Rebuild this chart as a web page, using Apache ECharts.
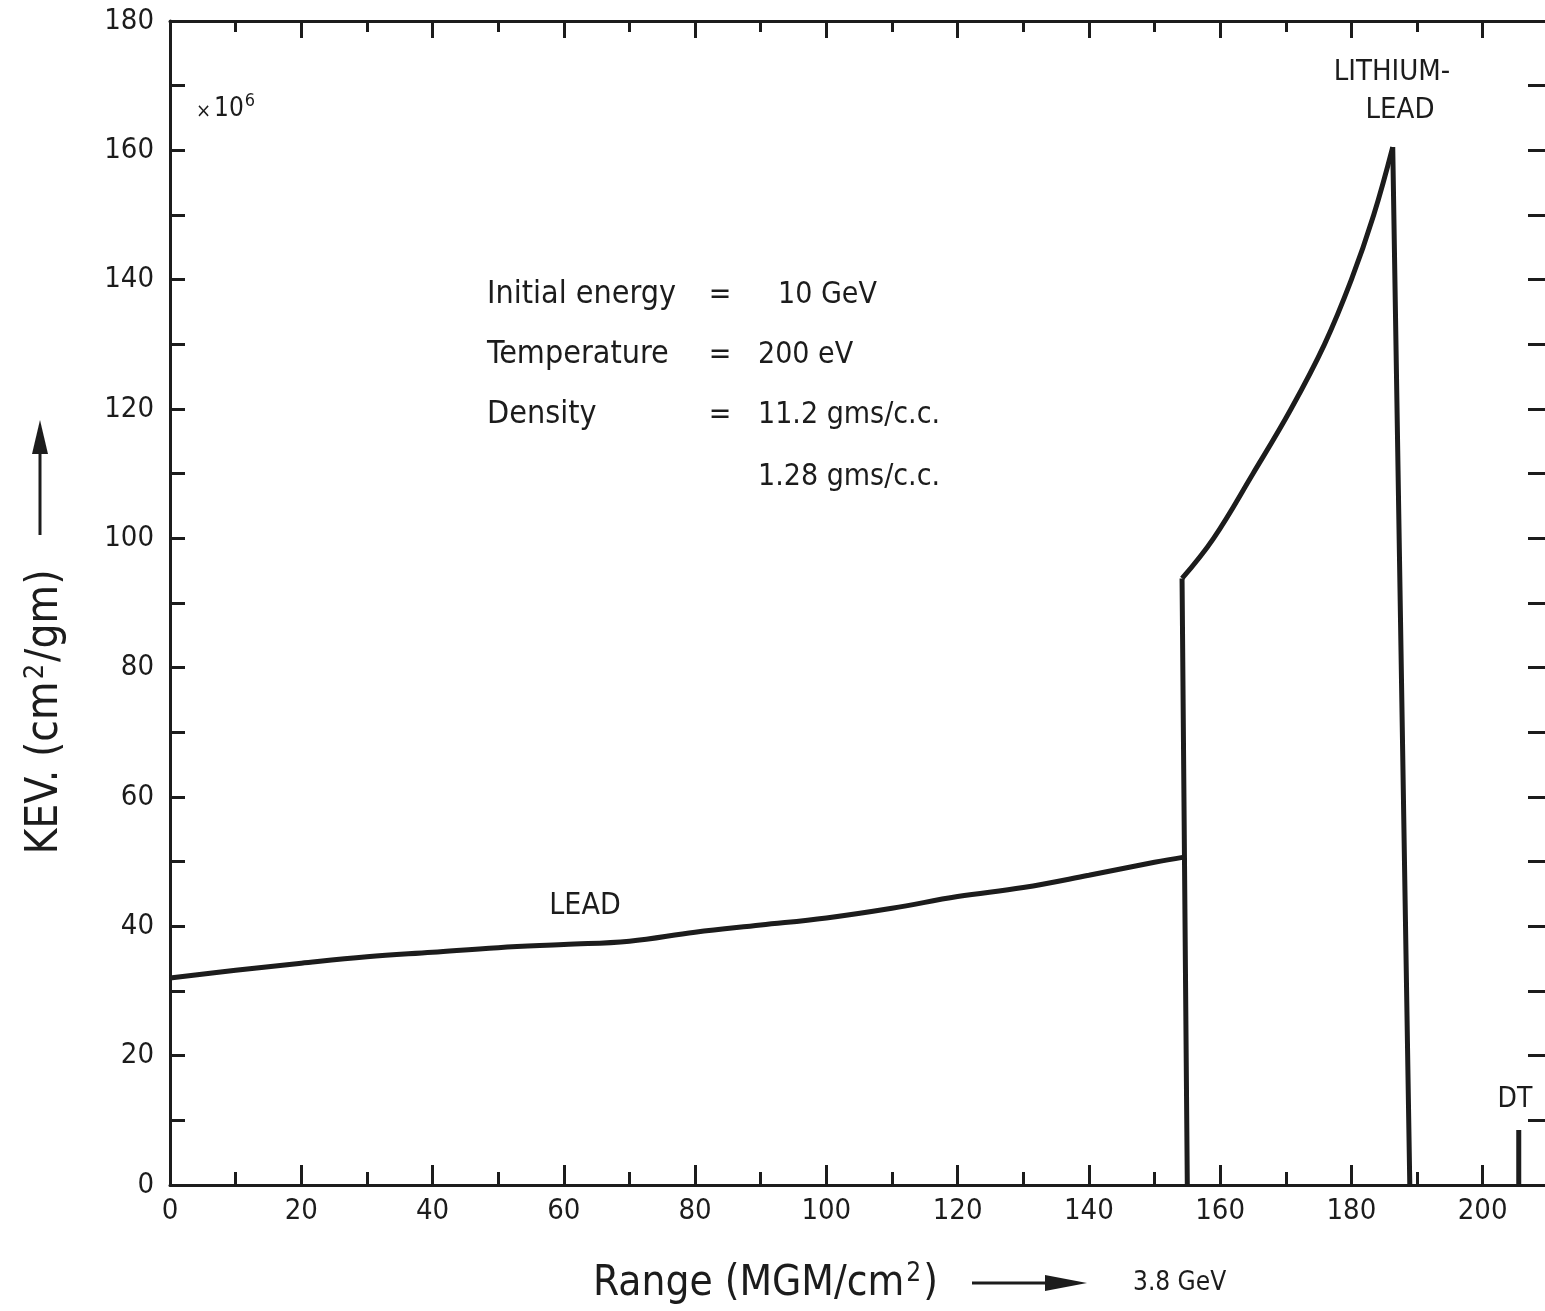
<!DOCTYPE html>
<html>
<head>
<meta charset="utf-8">
<script src="https://cdn.jsdelivr.net/npm/echarts@6/dist/echarts.min.js"></script>
<style>
  html, body { margin: 0; padding: 0; background: #fff; }
  #range-chart { width: 1545px; height: 1311px; }
</style>
</head>
<body>
<div id="range-chart"></div>
<script>
// energy deposition of a 10 GeV ion in lead, lithium-lead and DT
var leadRange = [0, 10, 20, 30, 40, 50, 60, 70, 80, 90, 100, 110, 120, 130, 140, 150, 154.5];
var leadValue = [32.0, 33.2, 34.3, 35.3, 36.0, 36.7, 37.2, 37.7, 39.1, 40.2, 41.3, 42.8, 44.6, 46.0, 47.9, 49.9, 50.7];

var liPbRange = [154.2, 159.0, 165.0, 170.8, 175.9, 180.0, 183.4, 186.3];
var liPbValue = [93.8, 100.0, 110.0, 120.0, 130.0, 140.0, 150.0, 160.5];
// where the two steep edges of the lithium-lead peak reach zero
var liPbEdgeBase = [155.0, 188.9];

var dtRange = [205.5, 205.5];
var dtValue = [0, 8.5];

var xMajorTicks = [0, 20, 40, 60, 80, 100, 120, 140, 160, 180, 200];
var xMinorTicks = [10, 30, 50, 70, 90, 110, 130, 150, 170, 190];

var FONT = '"DejaVu Sans Condensed", "DejaVu Sans", sans-serif';
var INK = '#1c1c1c';

var range_chartDom = document.getElementById('range-chart');
var range_myChart = echarts.init(range_chartDom);
var range_option;

function pairs(xs, ys) {
    return xs.map(function (x, i) { return [x, ys[i]]; });
}

var liPbEdges = [
    [liPbEdgeBase[0], 0],
    [liPbRange[0], liPbValue[0]],
    null,
    [liPbRange[liPbRange.length - 1], liPbValue[liPbValue.length - 1]],
    [liPbEdgeBase[1], 0]
];

function xAxisDef(pos, ticks, len, showLine, showLabel) {
    return {
        type: 'value',
        position: pos,
        min: 0,
        max: 209.5,
        axisLine: { show: showLine, onZero: false, lineStyle: { color: INK, width: 3 } },
        axisTick: { show: true, inside: true, length: len, customValues: ticks,
                    lineStyle: { color: INK, width: 3 } },
        axisLabel: { show: showLabel, customValues: ticks, margin: 12,
                     fontFamily: FONT, fontSize: 29, color: INK },
        splitLine: { show: false }
    };
}

function textAt(x, y, text, size, align) {
    return {
        type: 'text', x: x, y: y,
        style: { text: text, font: size + 'px ' + FONT, fill: INK,
                 align: align || 'left', verticalAlign: 'middle' }
    };
}

range_option = {
    backgroundColor: '#fff',
    animation: false,
    grid: { left: 170, right: 0, top: 21, bottom: 126, containLabel: false, outerBoundsMode: 'none' },
    xAxis: [
        xAxisDef('bottom', xMajorTicks, 20, true, true),
        xAxisDef('bottom', xMinorTicks, 13, false, false),
        xAxisDef('top', xMajorTicks, 17, true, false),
        xAxisDef('top', xMinorTicks, 11, false, false)
    ],
    yAxis: [
        {
            type: 'value',
            position: 'left',
            min: 0,
            max: 180,
            interval: 10,
            axisLine: { show: true, onZero: false, lineStyle: { color: INK, width: 3 } },
            axisTick: { inside: true, length: 15, lineStyle: { color: INK, width: 3 } },
            axisLabel: {
                margin: 16, fontFamily: FONT, fontSize: 29, color: INK,
                formatter: function (v) { return v % 20 === 0 ? String(v) : ''; }
            },
            splitLine: { show: false }
        },
        {
            type: 'value',
            position: 'right',
            min: 0,
            max: 180,
            interval: 10,
            axisLine: { show: false, onZero: false },
            axisTick: { show: true, inside: true, length: 17, lineStyle: { color: INK, width: 3 } },
            axisLabel: { show: false },
            splitLine: { show: false }
        }
    ],
    series: [
        {
            name: 'Lead',
            type: 'line',
            smooth: 0.4,
            symbol: 'none',
            lineStyle: { color: INK, width: 5 },
            data: pairs(leadRange, leadValue)
        },
        {
            name: 'Lithium-lead',
            type: 'line',
            smooth: 0.4,
            symbol: 'none',
            lineStyle: { color: INK, width: 5 },
            data: pairs(liPbRange, liPbValue)
        },
        {
            name: 'Lithium-lead edges',
            type: 'line',
            symbol: 'none',
            connectNulls: false,
            lineStyle: { color: INK, width: 5, join: 'round' },
            data: liPbEdges
        },
        {
            name: 'DT',
            type: 'line',
            symbol: 'none',
            lineStyle: { color: INK, width: 5 },
            data: pairs(dtRange, dtValue)
        }
    ],
    graphic: [
        {
            type: 'text', x: 196, y: 92,
            style: {
                text: '{x|×}{n|10}{s|6}', fill: INK,
                rich: {
                    x: { fontFamily: FONT, fontSize: 20, fill: INK, verticalAlign: 'bottom', padding: [0, 3, 0, 0] },
                    n: { fontFamily: FONT, fontSize: 26, fill: INK, verticalAlign: 'bottom' },
                    s: { fontFamily: FONT, fontSize: 18, fill: INK, verticalAlign: 'top', padding: [0, 0, 12, 1] }
                }
            }
        },
        // parameter block
        textAt(487, 295, 'Initial energy', 32),
        textAt(720, 295, '=', 30, 'center'),
        textAt(778, 295, '10 GeV', 30),
        textAt(487, 355, 'Temperature', 32),
        textAt(720, 355, '=', 30, 'center'),
        textAt(758, 355, '200 eV', 30),
        textAt(487, 415, 'Density', 32),
        textAt(720, 415, '=', 30, 'center'),
        textAt(758, 415, '11.2 gms/c.c.', 30),
        textAt(758, 477, '1.28 gms/c.c.', 30),
        // curve labels
        textAt(585, 906, 'LEAD', 30, 'center'),
        textAt(1392, 72, 'LITHIUM-', 29, 'center'),
        textAt(1400, 110, 'LEAD', 29, 'center'),
        textAt(1515, 1100, 'DT', 28, 'center'),
        // x axis name with arrow
        {
            type: 'text', x: 593, y: 1283,
            style: {
                text: '{a|Range (MGM/cm}{s|2}{a|)}', verticalAlign: 'middle',
                rich: {
                    a: { fontFamily: FONT, fontSize: 42, fill: INK, verticalAlign: 'bottom' },
                    s: { fontFamily: FONT, fontSize: 26, fill: INK, verticalAlign: 'top', padding: [0, 2, 18, 2] }
                }
            }
        },
        { type: 'line', shape: { x1: 972, y1: 1283, x2: 1050, y2: 1283 }, style: { stroke: INK, lineWidth: 3 } },
        { type: 'polygon', shape: { points: [[1045, 1275], [1087, 1283], [1045, 1291]] }, style: { fill: INK } },
        textAt(1133, 1283, '3.8 GeV', 26),
        // y axis name with arrow
        {
            type: 'text', x: 45, y: 712, rotation: Math.PI / 2,
            style: {
                text: '{a|KEV. (cm}{s|2}{a|/gm)}', align: 'center', verticalAlign: 'middle',
                rich: {
                    a: { fontFamily: FONT, fontSize: 44, fill: INK, verticalAlign: 'bottom' },
                    s: { fontFamily: FONT, fontSize: 27, fill: INK, verticalAlign: 'top', padding: [0, 2, 19, 2] }
                }
            }
        },
        { type: 'line', shape: { x1: 40, y1: 535, x2: 40, y2: 448 }, style: { stroke: INK, lineWidth: 3 } },
        { type: 'polygon', shape: { points: [[32, 454], [40, 420], [48, 454]] }, style: { fill: INK } }
    ]
};

if (range_option && typeof range_option === 'object') {
    range_myChart.setOption(range_option);
}
</script>
</body>
</html>
